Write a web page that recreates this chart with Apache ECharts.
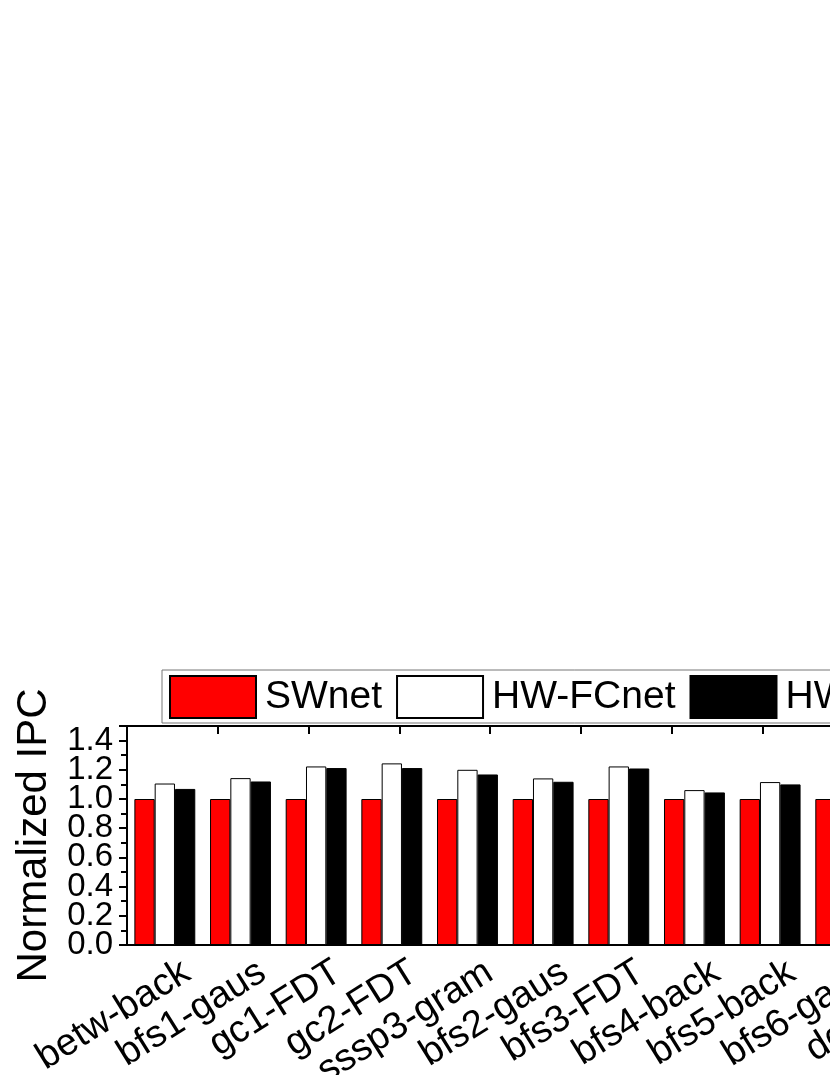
<!DOCTYPE html>
<html>
<head>
<meta charset="utf-8">
<script src="https://cdn.jsdelivr.net/npm/echarts@6/dist/echarts.min.js"></script>
<style>
  html, body { margin: 0; padding: 0; overflow: hidden; background: #fff; }
  #ipcChart { width: 1000px; height: 1075px; }
</style>
</head>
<body>
<div id="ipcChart"></div>
<script>
// benchmarks (the last two run past the right edge of the figure)
const categories = [
  'betw-back', 'bfs1-gaus', 'gc1-FDT', 'gc2-FDT', 'sssp3-gram',
  'bfs2-gaus', 'bfs3-FDT', 'bfs4-back', 'bfs5-back', 'bfs6-gaus', 'deg-gaus',
];
const seriesNames = ['SWnet', 'HW-FCnet', 'HW-MCnet'];
const swNet = [1, 1, 1, 1, 1, 1, 1, 1, 1, 1, 1];
const hwFcNet = [1.106, 1.143, 1.223, 1.244, 1.2, 1.141, 1.223, 1.061, 1.116, 1.12, 1.15];
const hwMcNet = [1.069, 1.12, 1.212, 1.212, 1.168, 1.118, 1.209, 1.045, 1.1, 1.1, 1.13];
const yTicks = { min: 0, max: 1.5, interval: 0.2 };

const font = 'Liberation Sans, Arial, sans-serif';
const bandWidth = 75.66;

const chart = echarts.init(document.getElementById('ipcChart'), null, { renderer: 'canvas' });

const barStyle = (color) => ({
  color: color,
  borderColor: '#000',
  borderWidth: 1,
});

const yLabel = {
  margin: 14,
  fontSize: 33,
  color: '#000',
  fontFamily: font,
};

const option = {
  animation: false,
  backgroundColor: '#fff',
  textStyle: { fontFamily: font, color: '#000' },
  legend: {
    left: 162,
    top: 670,
    orient: 'horizontal',
    padding: [5, 10, 4, 7],
    borderColor: '#777',
    borderWidth: 1,
    itemWidth: 86,
    itemHeight: 42,
    itemGap: 14,
    icon: 'rect',
    textStyle: { fontSize: 39, color: '#000', fontFamily: font, padding: [0, 0, 0, 4] },
    data: seriesNames,
  },
  grid: {
    left: 127,
    top: 726,
    width: categories.length * bandWidth,
    height: 219,
    outerBoundsMode: 'none',
  },
  xAxis: [
    {
      type: 'category',
      data: categories,
      position: 'bottom',
      axisLine: { lineStyle: { color: '#000', width: 2 } },
      axisTick: { alignWithLabel: true, length: 10, lineStyle: { color: '#000', width: 2 } },
      axisLabel: {
        rotate: 32,
        interval: 0,
        margin: 38,
        padding: [0, -26, 0, 0],
        fontSize: 38,
        color: '#000',
        fontFamily: font,
      },
    },
    {
      type: 'category',
      data: categories,
      position: 'bottom',
      axisLine: { show: false },
      axisTick: { length: 5, lineStyle: { color: '#000', width: 2 } },
      axisLabel: { show: false },
    },
    {
      type: 'value',
      position: 'top',
      min: 0,
      max: categories.length,
      interval: 1.2,
      axisLine: { show: true, lineStyle: { color: '#000', width: 2 } },
      axisTick: { show: true, inside: true, length: 8, lineStyle: { color: '#000', width: 2 } },
      axisLabel: { show: false },
      splitLine: { show: false },
    },
  ],
  yAxis: [
    {
      type: 'value',
      position: 'left',
      min: yTicks.min,
      max: yTicks.max,
      interval: yTicks.interval,
      name: 'Normalized IPC',
      nameLocation: 'middle',
      nameRotate: 90,
      nameGap: 72,
      nameTextStyle: { fontSize: 42, color: '#000', fontFamily: font },
      axisLine: { show: true, lineStyle: { color: '#000', width: 2 } },
      axisTick: { show: true, length: 8, lineStyle: { color: '#000', width: 2 } },
      minorTick: { show: true, splitNumber: 2, length: 6, lineStyle: { color: '#000', width: 2 } },
      splitLine: { show: false },
      axisLabel: Object.assign({
        showMinLabel: false,
        showMaxLabel: false,
        formatter: (v) => v.toFixed(1),
      }, yLabel),
    },
    {
      // only carries the 0.0 label, which overlaps 0.2 as in the original
      type: 'value',
      position: 'left',
      min: yTicks.min,
      max: yTicks.max,
      interval: yTicks.interval,
      axisLine: { show: false },
      axisTick: { show: false },
      splitLine: { show: false },
      axisLabel: Object.assign({
        showMinLabel: true,
        showMaxLabel: false,
        formatter: (v) => (v === 0 ? v.toFixed(1) : ''),
      }, yLabel),
    },
  ],
  series: [
    {
      name: seriesNames[0],
      type: 'bar',
      xAxisIndex: 0,
      data: swNet,
      barGap: '0%',
      barCategoryGap: '19.5%',
      itemStyle: barStyle('#ff0000'),
    },
    {
      name: seriesNames[1],
      type: 'bar',
      xAxisIndex: 0,
      data: hwFcNet,
      itemStyle: barStyle('#ffffff'),
    },
    {
      name: seriesNames[2],
      type: 'bar',
      xAxisIndex: 0,
      data: hwMcNet,
      itemStyle: barStyle('#000000'),
    },
  ],
};

chart.setOption(option);
</script>
</body>
</html>
